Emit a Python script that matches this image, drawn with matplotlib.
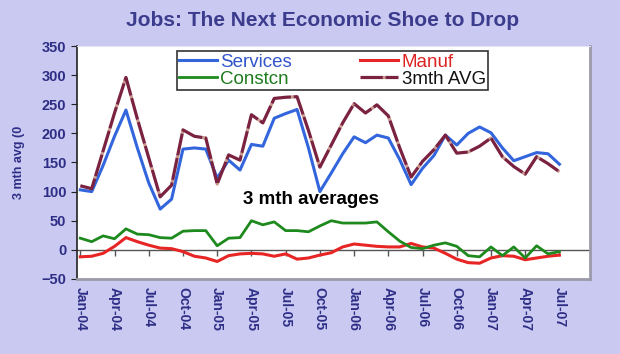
import matplotlib.pyplot as plt
import numpy as np

# monthly 3-month averages, Jan-04 .. Jul-07
months = ["Jan", "Feb", "Mar", "Apr", "May", "Jun",
          "Jul", "Aug", "Sep", "Oct", "Nov", "Dec"]
labels = [f"{m}-{y:02d}" for y in range(4, 8) for m in months][:43]

services = [103, 100, 145, 195, 240, 175, 115, 70, 87, 173, 175, 173,
            123, 154, 137, 181, 178, 226, 234, 241, 175, 100, 132, 165,
            194, 184, 197, 192, 155, 112, 140, 162, 197, 180, 200, 211,
            201, 175, 153, 160, 167, 165, 147]
manuf = [-12, -11, -6, 6, 21, 14, 8, 3, 2, -3, -11, -14,
         -20, -10, -7, -6, -7, -11, -7, -16, -14, -9, -5, 5,
         10, 8, 6, 5, 5, 11, 5, 3, -6, -16, -22, -23,
         -14, -10, -11, -17, -14, -11, -9]
constcn = [20, 14, 24, 19, 36, 27, 26, 21, 20, 32, 33, 33,
           7, 20, 21, 50, 43, 48, 33, 33, 31, 41, 50, 46,
           46, 46, 48, 31, 15, 4, 2, 8, 12, 6, -10, -12,
           5, -10, 5, -14, 7, -7, -3]
avg3 = [110, 105, 170, 235, 296, 225, 158, 91, 111, 206, 195, 192,
        113, 163, 154, 232, 218, 260, 262, 263, 205, 142, 180, 218,
        251, 235, 249, 230, 175, 125, 152, 172, 197, 166, 168, 178,
        192, 160, 143, 130, 160, 148, 134]

x = np.arange(len(labels))
navy = "#2E2E86"

plt.rcParams["font.family"] = ["Liberation Sans", "DejaVu Sans"]

fig = plt.figure(figsize=(6.2, 3.54), dpi=100, facecolor="#C9C9F1")
ax = fig.add_axes([0.124, 0.212, 0.828, 0.658])
ax.set_facecolor("white")

l_serv, = ax.plot(x, services, color="#3366DD", lw=2.2, label="Services")
l_manuf, = ax.plot(x, manuf, color="#E82525", lw=2.2, label="Manuf")
l_const, = ax.plot(x, constcn, color="#1E8A1E", lw=2.0, label="Constcn")
l_avg, = ax.plot(x, avg3, color="#7A2240", lw=2.3, ls=(0, (7, 0.8)),
                 gapcolor="#C89A8A", label="3mth AVG")

ax.axhline(0, color="#555555", lw=1.0, zorder=1)
zero_ax = ax.secondary_xaxis(0, transform=ax.transData)
zero_ax.set_xticks(x[::3])
zero_ax.tick_params(length=4, width=1, color="#555555", labelbottom=False)
zero_ax.spines["bottom"].set_visible(False)

ax.set_xlim(-0.3, 44.7)
ax.set_ylim(-50, 350)
ax.set_yticks(range(-50, 351, 50))
ax.set_xticks(x[::3])
ax.set_xticklabels(labels[::3], rotation=-90, fontsize=10,
                   fontweight="bold", color=navy)
ax.tick_params(axis="x", length=0, pad=6)
ax.tick_params(axis="y", length=4, color="#222222", labelsize=10.5,
               labelcolor=navy)
for t in ax.get_yticklabels():
    t.set_fontweight("bold")

ax.spines["left"].set_color("#222222")
ax.spines["left"].set_linewidth(1.2)
for s in ["right", "bottom"]:
    ax.spines[s].set_color("#9A9AAA")
    ax.spines[s].set_linewidth(2)
ax.spines["top"].set_color("#E4E4F4")

ax.set_ylabel("3 mth avg (0", fontsize=9, fontweight="bold",
              color=navy, labelpad=12)

# two columns: Services/Constcn on the left, Manuf/3mth AVG on the right
handles = [l_serv, l_const, l_manuf, l_avg]
leg = ax.legend(handles=handles, labels=[h.get_label() for h in handles],
                loc="upper left", bbox_to_anchor=(0.195, 0.75, 0.606, 0.228),
                mode="expand", ncol=2, fontsize=13.5, frameon=True,
                fancybox=False, edgecolor="black", handlelength=2.0,
                handletextpad=0.2, borderpad=0.12, labelspacing=0.0,
                borderaxespad=0.0)
leg.get_frame().set_linewidth(1.2)
for t, c in zip(leg.get_texts(), ["#3355CC", "#1E7B1E", "#DD2222", "#111111"]):
    t.set_color(c)

ax.text(20.2, 86, "3 mth averages", fontsize=13.5, fontweight="bold",
        ha="center", va="center", color="black")

fig.text(0.52, 0.942, "Jobs: The Next Economic Shoe to Drop", fontsize=15,
         fontweight="bold", color="#3C3C8E", ha="center", va="center")

fig.savefig("out.png", dpi=100, facecolor=fig.get_facecolor())
